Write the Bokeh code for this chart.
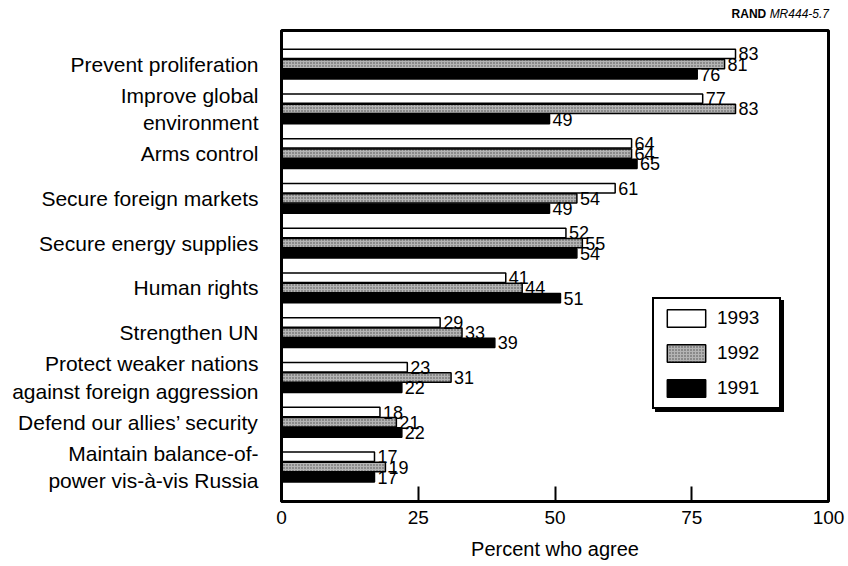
from bokeh.plotting import figure
from bokeh.layouts import column
from bokeh.models import ColumnDataSource, Legend, LegendItem, Div, FixedTicker, Range1d
from bokeh.transform import dodge
from bokeh.core.properties import value
from bokeh.embed import file_html
from bokeh.resources import INLINE

categories = [
    "Prevent proliferation",
    "Improve global\nenvironment",
    "Arms control",
    "Secure foreign markets",
    "Secure energy supplies",
    "Human rights",
    "Strengthen UN",
    "Protect weaker nations\nagainst foreign aggression",
    "Defend our allies\u2019 security",
    "Maintain balance-of-\npower vis-\u00e0-vis Russia",
]
years = ["1993", "1992", "1991"]
v1993 = [83, 77, 64, 61, 52, 41, 29, 23, 18, 17]
v1992 = [81, 83, 64, 54, 55, 44, 33, 31, 21, 19]
v1991 = [76, 49, 65, 49, 54, 51, 39, 22, 22, 17]
x_ticks = [0, 25, 50, 75, 100]

FONT = "Liberation Sans"
pos = [-i for i in range(len(categories))]

src = ColumnDataSource(dict(
    y=pos,
    v1993=v1993, v1992=v1992, v1991=v1991,
    t1993=[str(v) for v in v1993],
    t1992=[str(v) for v in v1992],
    t1991=[str(v) for v in v1991],
))

p = figure(width=846, height=542,
           x_range=Range1d(0, 100), y_range=Range1d(-9.77, 0.75),
           output_backend="svg", toolbar_location=None,
           min_border_left=281, min_border_right=18,
           min_border_top=8, min_border_bottom=63)

off = 0.228
bh = 0.21
r93 = p.hbar(y=dodge("y", off), right="v1993", height=bh, left=0,
             fill_color="white", line_color="black", line_width=1.5, source=src)
r92 = p.hbar(y=dodge("y", 0), right="v1992", height=bh, left=0,
             fill_color="#b4b4b4", hatch_pattern="dot", hatch_color="#4a4a4a",
             hatch_scale=3, hatch_weight=1,
             line_color="black", line_width=1.5, source=src)
r91 = p.hbar(y=dodge("y", -off), right="v1991", height=bh, left=0,
             fill_color="black", line_color="black", line_width=1.5, source=src)

for col, o in (("1993", off), ("1992", 0), ("1991", -off)):
    p.text(x="v" + col, y=dodge("y", o), text="t" + col, x_offset=3,
           text_baseline="middle", text_align="left",
           text_font=value(FONT), text_font_size="18px", text_color="black",
           source=src)

legend_kw = dict(glyph_width=48, glyph_height=22, label_standoff=7,
                 spacing=13, padding=8, margin=0, label_width=54,
                 label_text_font=FONT, label_text_font_size="19px",
                 border_line_color="black", border_line_width=2.5,
                 border_line_alpha=1.0, background_fill_alpha=1)

renderers = [r93, r92, r91]

# drop shadow behind the legend box (blank labels, same box size)
shadow = Legend(items=[LegendItem(label=" ", renderers=[r]) for r in renderers],
                location=(374, 89),
                label_text_color="black", background_fill_color="black",
                **legend_kw)
p.add_layout(shadow)

legend = Legend(items=[LegendItem(label=y, renderers=[r]) for y, r in zip(years, renderers)],
                location=(371, 92),
                label_text_color="black", background_fill_color="white",
                **legend_kw)
p.add_layout(legend)

xa = p.xaxis[0]
xa.ticker = FixedTicker(ticks=x_ticks)
xa.major_tick_in = 15
xa.major_tick_out = 0
xa.major_tick_line_width = 2
xa.major_tick_line_color = "black"
xa.minor_tick_line_color = None
xa.axis_line_width = 3
xa.axis_line_color = "black"
xa.major_label_text_font = FONT
xa.major_label_text_font_size = "19px"
xa.major_label_text_color = "black"
xa.major_label_standoff = 9
xa.axis_label = "Percent who agree"
xa.axis_label_text_font = FONT
xa.axis_label_text_font_size = "20px"
xa.axis_label_text_font_style = "normal"
xa.axis_label_text_color = "black"
xa.axis_label_standoff = 11

ya = p.yaxis[0]
ya.ticker = FixedTicker(ticks=pos)
ya.major_label_overrides = {k: lab for k, lab in zip(pos, categories)}
ya.major_tick_line_color = None
ya.minor_tick_line_color = None
ya.axis_line_color = "black"
ya.axis_line_width = 3
ya.major_label_text_font = FONT
ya.major_label_text_font_size = "21px"
ya.major_label_text_color = "black"
ya.major_label_standoff = 17

p.xgrid.visible = False
p.ygrid.visible = False
p.outline_line_color = "black"
p.outline_line_width = 3

source_note = Div(
    text=('<div style="display:block;width:829px;text-align:right;padding-top:8px;'
          'font-family:\'Liberation Sans\';font-size:12px;line-height:13px;color:black;">'
          '<b>RAND</b> <i>MR444-5.7</i></div>'),
    width=846, height=22, margin=0)

layout = column(source_note, p, spacing=0)

open("out.html", "w").write(file_html(layout, INLINE))
